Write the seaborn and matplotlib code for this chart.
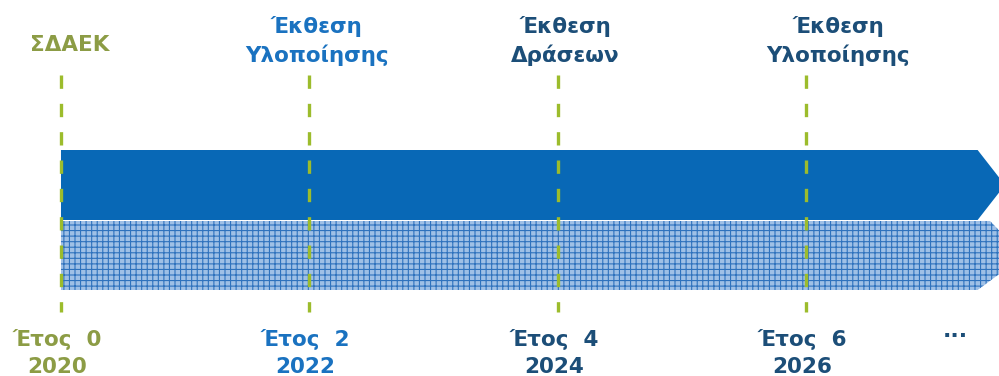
import numpy as np
import matplotlib.pyplot as plt
import seaborn as sns
from matplotlib.patches import Polygon

# milestones
years = [0, 2, 4, 6]
calendar = [2020, 2022, 2024, 2026]
top_labels = ["ΣΔΑΕΚ", "Έκθεση\nΥλοποίησης", "Έκθεση\nΔράσεων", "Έκθεση\nΥλοποίησης"]
bottom_labels = [f"Έτος  {y}\n{c}" for y, c in zip(years, calendar)]

olive = "#8c9c45"
blue = "#1a72c0"
navy = "#1c4e78"
label_colors = [olive, blue, navy, navy]
year_colors = [olive, blue, navy, navy]
top_offsets = [0.07, 0.06, 0.06, 0.26]

sns.set_theme(style="white")
plt.rcParams['font.family'] = ['DejaVu Sans']
plt.rcParams['hatch.linewidth'] = 0.8

fig = plt.figure(figsize=(9.99, 3.76), dpi=100)
ax = fig.add_axes([0, 0, 1, 1])
ax.set_xlim(-0.491, 7.552)
ax.set_ylim(376, 0)
ax.axis("off")

# upper solid band (arrow)
start, body_end = years[0], 7.38
upper = Polygon([(start, 150), (body_end, 150), (7.6, 185), (body_end, 220), (start, 220)],
                closed=True, facecolor="#0868b6", edgecolor="none", zorder=2)
ax.add_patch(upper)

# lower hatched band (arrow)
lower = Polygon([(start, 221), (7.48, 221), (7.75, 256), (7.38, 290), (start, 290)],
                closed=True, facecolor="#9fc0e6", edgecolor="#2f72bd", hatch="+++",
                linewidth=0, zorder=2)
ax.add_patch(lower)

# milestone dashed lines
ax.vlines(years, 75, 312, colors="#9cbc2c", linewidth=2.4,
          linestyles=(0, (4, 4.5)), zorder=3)

for x, lab, col, off in zip(years, top_labels, label_colors, top_offsets):
    ax.text(x + off, 45 if lab == "ΣΔΑΕΚ" else 41, lab, ha="center", va="center",
            fontsize=15.5, fontweight="bold", color=col, linespacing=1.45)

for x, lab, col in zip(years, bottom_labels, year_colors):
    ax.text(x - 0.03, 353, lab, ha="center", va="center",
            fontsize=15.5, fontweight="bold", color=col, linespacing=1.4)

ax.text(7.2, 331, "...", ha="center", va="center", fontsize=16,
        fontweight="bold", color=navy)

fig.savefig("out.png", dpi=100)
